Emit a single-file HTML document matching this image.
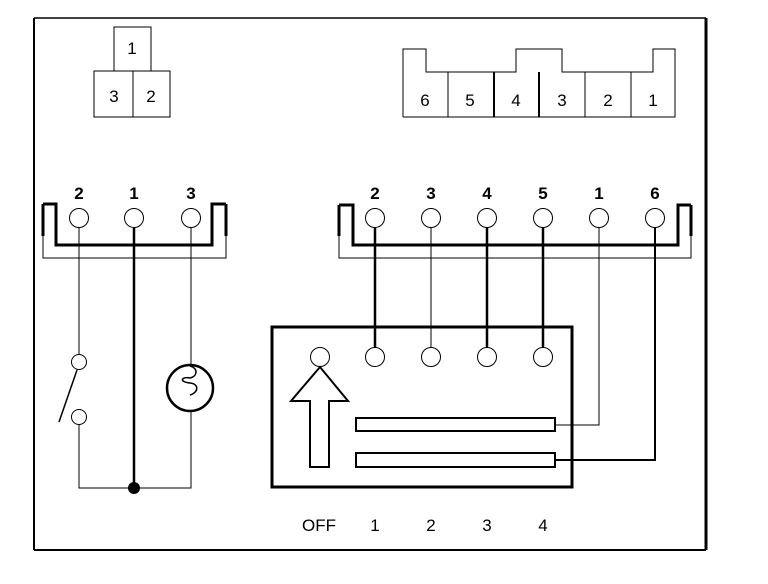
<!DOCTYPE html>
<html><head><style>body{margin:0;background:#fff}svg{display:block}text{font-family:"Liberation Sans",Arial,sans-serif;font-size:17px;fill:#000;text-anchor:middle}</style></head>
<body>
<svg width="768" height="584" viewBox="0 0 768 584">
<g fill="none" stroke="#000">
<path d="M34 18H706" stroke-width="1.5"/>
<path d="M34 18V550" stroke-width="2"/>
<path d="M706 18V550" stroke-width="3"/>
<path d="M34 550H706" stroke-width="2"/>
<rect x="114" y="27" width="37" height="44" stroke-width="1"/>
<rect x="94" y="71" width="39" height="46" stroke-width="1"/>
<rect x="133" y="71" width="37" height="46" stroke-width="1"/>
<path d="M403 117V49H426V72H516V49H562V72H653V49H675V117H403" stroke-width="1"/>
<path d="M448 72V117M585 72V117M631 72V117" stroke-width="1"/>
<path d="M494 72V117M539 72V117" stroke-width="2"/>
<path d="M43 204V258H226V204" stroke-width="1"/>
<path d="M43 204H56V245H212V204H226" stroke-width="3"/>
<path d="M43 204V236M226 204V236" stroke-width="3"/>
<circle cx="79" cy="218" r="9.5" stroke-width="1"/>
<circle cx="134" cy="218" r="9.5" stroke-width="1"/>
<circle cx="191" cy="218" r="9.5" stroke-width="1"/>
<path d="M79 228V355" stroke-width="1"/>
<circle cx="79" cy="362" r="7.5" stroke-width="1"/>
<circle cx="79" cy="417" r="7.5" stroke-width="1"/>
<path d="M77 370L59 422" stroke-width="1.5"/>
<path d="M79 425V488H191V411M191 228V365" stroke-width="1"/>
<path d="M134 228V488" stroke-width="2.5"/>
<circle cx="190" cy="388" r="23" stroke-width="2.5"/>
<path d="M190 366c8 2 8 10 0 12c-8 -2 -12 4 0 5c10 1 8 10 0 12" stroke-width="1.5"/>
<path d="M339 205V258H691V205" stroke-width="1"/>
<path d="M339 205H353V245H678V205H691" stroke-width="3"/>
<path d="M339 205V236M691 205V236" stroke-width="3"/>
<circle cx="375" cy="218" r="9.5" stroke-width="1"/>
<circle cx="431" cy="218" r="9.5" stroke-width="1"/>
<circle cx="487" cy="218" r="9.5" stroke-width="1"/>
<circle cx="543" cy="218" r="9.5" stroke-width="1"/>
<circle cx="599" cy="218" r="9.5" stroke-width="1"/>
<circle cx="655" cy="218" r="9.5" stroke-width="1"/>
<path d="M375 228V347M487 228V347M543 228V347" stroke-width="2.5"/>
<path d="M431 228V347" stroke-width="1"/>
<path d="M599 228V425H555" stroke-width="1"/>
<path d="M655 228V460H555" stroke-width="2"/>
<rect x="272" y="327" width="300" height="160" stroke-width="3"/>
<circle cx="320" cy="357" r="9.5" stroke-width="1"/>
<circle cx="375" cy="357" r="9.5" stroke-width="1"/>
<circle cx="431" cy="357" r="9.5" stroke-width="1"/>
<circle cx="487" cy="357" r="9.5" stroke-width="1"/>
<circle cx="543" cy="357" r="9.5" stroke-width="1"/>
<path d="M320 367L291 401H310V467H329V401H348Z" stroke-width="2"/>
<rect x="356" y="418" width="199" height="13" stroke-width="2"/>
<rect x="356" y="453" width="199" height="14" stroke-width="2"/>
</g>
<circle cx="134" cy="488" r="6" fill="#000"/>
<text x="132" y="54">1</text><text x="114" y="102">3</text><text x="151" y="102">2</text>
<text x="425" y="106">6</text><text x="470" y="106">5</text><text x="516" y="106">4</text><text x="562" y="106">3</text><text x="608" y="106">2</text><text x="653" y="106">1</text>
<g style="font-weight:bold"><text x="79" y="199">2</text><text x="134" y="199">1</text><text x="191" y="199">3</text>
<text x="375" y="199">2</text><text x="431" y="199">3</text><text x="487" y="199">4</text><text x="543" y="199">5</text><text x="599" y="199">1</text><text x="655" y="199">6</text></g>
<text x="319" y="531">OFF</text><text x="375" y="531">1</text><text x="431" y="531">2</text><text x="487" y="531">3</text><text x="543" y="531">4</text>
</svg>
</body></html>
